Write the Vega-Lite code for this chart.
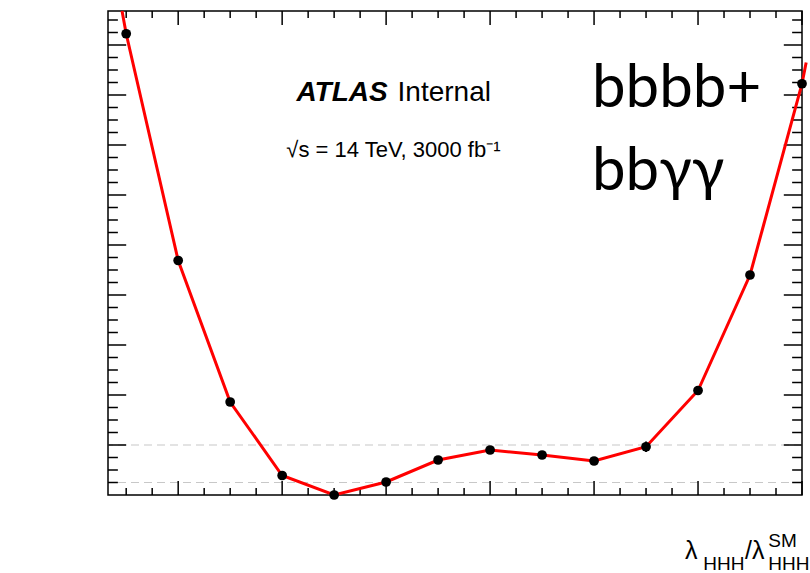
{
  "$schema": "https://vega.github.io/schema/vega-lite/v6.json",
  "width": 694,
  "height": 484,
  "autosize": {"type": "none"},
  "padding": {"left": 108, "top": 11, "right": 8, "bottom": 78},
  "background": "white",
  "config": {
    "view": {"stroke": "black", "strokeWidth": 1.5},
    "axis": {
      "grid": false,
      "domain": false,
      "labelColor": "black",
      "titleColor": "black",
      "labelFont": "Liberation Sans",
      "titleFont": "Liberation Sans",
      "titleFontSize": 25,
      "titleFontWeight": "normal"
    }
  },
  "datasets": {
    "scan": [
      {"lambda": -3, "nll": 18.45},
      {"lambda": -2, "nll": 9.38},
      {"lambda": -1, "nll": 3.72},
      {"lambda": 0, "nll": 0.78},
      {"lambda": 1, "nll": 0.0},
      {"lambda": 2, "nll": 0.52},
      {"lambda": 3, "nll": 1.4},
      {"lambda": 4, "nll": 1.8},
      {"lambda": 5, "nll": 1.6},
      {"lambda": 6, "nll": 1.36},
      {"lambda": 7, "nll": 1.93},
      {"lambda": 8, "nll": 4.18},
      {"lambda": 9, "nll": 8.8},
      {"lambda": 10, "nll": 16.45}
    ],
    "curve": [
      {"lambda": -3.08, "nll": 19.36},
      {"lambda": -3, "nll": 18.45},
      {"lambda": -2, "nll": 9.38},
      {"lambda": -1, "nll": 3.72},
      {"lambda": 0, "nll": 0.78},
      {"lambda": 1, "nll": 0.0},
      {"lambda": 2, "nll": 0.52},
      {"lambda": 3, "nll": 1.4},
      {"lambda": 4, "nll": 1.8},
      {"lambda": 5, "nll": 1.6},
      {"lambda": 6, "nll": 1.36},
      {"lambda": 7, "nll": 1.93},
      {"lambda": 8, "nll": 4.18},
      {"lambda": 9, "nll": 8.8},
      {"lambda": 10, "nll": 16.45},
      {"lambda": 10.08, "nll": 17.3}
    ],
    "thresholds": [{"level": 0.5}, {"level": 2}],
    "error7": [{"lambda": 7, "lo": 1.72, "hi": 2.14}],
    "xMajor": [{"lambda": -2}, {"lambda": 0}, {"lambda": 2}, {"lambda": 4}, {"lambda": 6}, {"lambda": 8}, {"lambda": 10}],
    "xMinor": [{"lambda": -3}, {"lambda": -2.5}, {"lambda": -1.5}, {"lambda": -1}, {"lambda": -0.5}, {"lambda": 0.5}, {"lambda": 1}, {"lambda": 1.5}, {"lambda": 2.5}, {"lambda": 3}, {"lambda": 3.5}, {"lambda": 4.5}, {"lambda": 5}, {"lambda": 5.5}, {"lambda": 6.5}, {"lambda": 7}, {"lambda": 7.5}, {"lambda": 8.5}, {"lambda": 9}, {"lambda": 9.5}],
    "yMajor": [{"nll": 2}, {"nll": 4}, {"nll": 6}, {"nll": 8}, {"nll": 10}, {"nll": 12}, {"nll": 14}, {"nll": 16}, {"nll": 18}],
    "yMinor": [{"nll": 0.5}, {"nll": 1}, {"nll": 1.5}, {"nll": 2.5}, {"nll": 3}, {"nll": 3.5}, {"nll": 4.5}, {"nll": 5}, {"nll": 5.5}, {"nll": 6.5}, {"nll": 7}, {"nll": 7.5}, {"nll": 8.5}, {"nll": 9}, {"nll": 9.5}, {"nll": 10.5}, {"nll": 11}, {"nll": 11.5}, {"nll": 12.5}, {"nll": 13}, {"nll": 13.5}, {"nll": 14.5}, {"nll": 15}, {"nll": 15.5}, {"nll": 16.5}, {"nll": 17}, {"nll": 17.5}, {"nll": 18.5}, {"nll": 19}],
    "anchor": [{}]
  },
  "layer": [
    {
      "data": {"name": "thresholds"},
      "mark": {"type": "rule", "color": "#c8c8c8", "strokeWidth": 1.2, "strokeDash": [8, 5]},
      "encoding": {
        "y": {
          "field": "level", "type": "quantitative",
          "scale": {"domain": [0, 19.36], "nice": false, "zero": false},
          "axis": null
        }
      }
    },
    {
      "data": {"name": "xMajor"},
      "mark": {"type": "rule", "color": "black", "strokeWidth": 1.5},
      "encoding": {
        "x": {"field": "lambda", "type": "quantitative", "scale": {"domain": [-3.35, 10], "nice": false, "zero": false}, "axis": null},
        "y": {"datum": 0, "type": "quantitative", "axis": null},
        "y2": {"datum": 0.56}
      }
    },
    {
      "data": {"name": "xMajor"},
      "mark": {"type": "rule", "color": "black", "strokeWidth": 1.5},
      "encoding": {
        "x": {"field": "lambda", "type": "quantitative", "axis": null},
        "y": {"datum": 19.36, "type": "quantitative", "axis": null},
        "y2": {"datum": 18.8}
      }
    },
    {
      "data": {"name": "xMinor"},
      "mark": {"type": "rule", "color": "black", "strokeWidth": 1.5},
      "encoding": {
        "x": {"field": "lambda", "type": "quantitative", "axis": null},
        "y": {"datum": 0, "type": "quantitative", "axis": null},
        "y2": {"datum": 0.28}
      }
    },
    {
      "data": {"name": "xMinor"},
      "mark": {"type": "rule", "color": "black", "strokeWidth": 1.5},
      "encoding": {
        "x": {"field": "lambda", "type": "quantitative", "axis": null},
        "y": {"datum": 19.36, "type": "quantitative", "axis": null},
        "y2": {"datum": 19.08}
      }
    },
    {
      "data": {"name": "yMajor"},
      "mark": {"type": "rule", "color": "black", "strokeWidth": 1.5},
      "encoding": {
        "y": {"field": "nll", "type": "quantitative", "axis": null},
        "x": {"datum": -3.35, "type": "quantitative", "axis": null},
        "x2": {"datum": -3.0}
      }
    },
    {
      "data": {"name": "yMajor"},
      "mark": {"type": "rule", "color": "black", "strokeWidth": 1.5},
      "encoding": {
        "y": {"field": "nll", "type": "quantitative", "axis": null},
        "x": {"datum": 10, "type": "quantitative", "axis": null},
        "x2": {"datum": 9.65}
      }
    },
    {
      "data": {"name": "yMinor"},
      "mark": {"type": "rule", "color": "black", "strokeWidth": 1.5},
      "encoding": {
        "y": {"field": "nll", "type": "quantitative", "axis": null},
        "x": {"datum": -3.35, "type": "quantitative", "axis": null},
        "x2": {"datum": -3.16}
      }
    },
    {
      "data": {"name": "yMinor"},
      "mark": {"type": "rule", "color": "black", "strokeWidth": 1.5},
      "encoding": {
        "y": {"field": "nll", "type": "quantitative", "axis": null},
        "x": {"datum": 10, "type": "quantitative", "axis": null},
        "x2": {"datum": 9.81}
      }
    },
    {
      "data": {"name": "curve"},
      "mark": {"type": "line", "color": "#ff0000", "strokeWidth": 3, "clip": false},
      "encoding": {
        "x": {
          "field": "lambda", "type": "quantitative",
          "axis": {
            "orient": "bottom", "title": null, "domain": false, "grid": false, "ticks": false,
            "values": [-2, 0, 2, 4, 6, 8, 10],
            "labelFont": "Liberation Sans",
            "labelColor": "black",
            "labelFontSize": 25,
            "labelPadding": 8,
            "labelFlush": false,
            "labelOverlap": false
          }
        },
        "y": {
          "field": "nll", "type": "quantitative",
          "axis": {
            "orient": "left", "domain": false, "grid": false, "ticks": false,
            "values": [0, 2, 4, 6, 8, 10, 12, 14, 16, 18],
            "labelFont": "Liberation Sans",
            "labelColor": "black",
            "labelFontSize": 27,
            "labelPadding": 4,
            "labelFlush": false,
            "labelOverlap": false,
            "title": "-ln(L)",
            "titleFont": "Liberation Sans",
            "titleColor": "black",
            "titleFontWeight": "normal",
            "titleFontSize": 25,
            "titleAngle": 270,
            "titleAlign": "right",
            "titleBaseline": "middle",
            "titleX": -78,
            "titleY": 2
          }
        }
      }
    },
    {
      "data": {"name": "scan"},
      "mark": {"type": "point", "filled": true, "color": "black", "size": 95, "opacity": 1},
      "encoding": {
        "x": {"field": "lambda", "type": "quantitative", "axis": null},
        "y": {"field": "nll", "type": "quantitative", "axis": null}
      }
    },
    {
      "data": {"name": "error7"},
      "mark": {"type": "rule", "color": "black", "strokeWidth": 2},
      "encoding": {
        "x": {"field": "lambda", "type": "quantitative", "axis": null},
        "y": {"field": "lo", "type": "quantitative", "axis": null},
        "y2": {"field": "hi"}
      }
    },
    {
      "data": {"name": "anchor"},
      "mark": {"type": "text", "text": "ATLAS", "font": "Liberation Sans", "fontSize": 28, "fontWeight": "bold", "fontStyle": "italic", "align": "left", "baseline": "alphabetic", "color": "black"},
      "encoding": {
        "x": {"datum": 0.275, "type": "quantitative", "axis": null},
        "y": {"datum": 15.76, "type": "quantitative", "axis": null}
      }
    },
    {
      "data": {"name": "anchor"},
      "mark": {"type": "text", "text": "Internal", "font": "Liberation Sans", "fontSize": 28, "align": "left", "baseline": "alphabetic", "color": "black"},
      "encoding": {
        "x": {"datum": 2.22, "type": "quantitative", "axis": null},
        "y": {"datum": 15.76, "type": "quantitative", "axis": null}
      }
    },
    {
      "data": {"name": "anchor"},
      "mark": {"type": "text", "text": "√s = 14 TeV, 3000 fb⁻¹", "font": "Liberation Sans", "fontSize": 22, "align": "left", "baseline": "alphabetic", "color": "black"},
      "encoding": {
        "x": {"datum": 0.08, "type": "quantitative", "axis": null},
        "y": {"datum": 13.52, "type": "quantitative", "axis": null}
      }
    },
    {
      "data": {"name": "anchor"},
      "mark": {"type": "text", "text": "bbbb+", "font": "Lato", "fontSize": 60, "align": "left", "baseline": "alphabetic", "color": "black"},
      "encoding": {
        "x": {"datum": 5.96, "type": "quantitative", "axis": null},
        "y": {"datum": 15.52, "type": "quantitative", "axis": null}
      }
    },
    {
      "data": {"name": "anchor"},
      "mark": {"type": "text", "text": "bbγγ", "font": "Lato", "fontSize": 60, "align": "left", "baseline": "alphabetic", "color": "black"},
      "encoding": {
        "x": {"datum": 5.96, "type": "quantitative", "axis": null},
        "y": {"datum": 12.2, "type": "quantitative", "axis": null}
      }
    },
    {
      "data": {"name": "anchor"},
      "mark": {"type": "text", "text": "λ", "font": "Liberation Sans", "fontSize": 25, "align": "left", "baseline": "alphabetic", "color": "black", "clip": false},
      "encoding": {
        "x": {"datum": 7.75, "type": "quantitative", "axis": null},
        "y": {"datum": -2.56, "type": "quantitative", "axis": null}
      }
    },
    {
      "data": {"name": "anchor"},
      "mark": {"type": "text", "text": "HHH", "font": "Liberation Sans", "fontSize": 19, "align": "left", "baseline": "alphabetic", "color": "black", "clip": false},
      "encoding": {
        "x": {"datum": 8.1, "type": "quantitative", "axis": null},
        "y": {"datum": -2.98, "type": "quantitative", "axis": null}
      }
    },
    {
      "data": {"name": "anchor"},
      "mark": {"type": "text", "text": "/λ", "font": "Liberation Sans", "fontSize": 25, "align": "left", "baseline": "alphabetic", "color": "black", "clip": false},
      "encoding": {
        "x": {"datum": 8.905, "type": "quantitative", "axis": null},
        "y": {"datum": -2.56, "type": "quantitative", "axis": null}
      }
    },
    {
      "data": {"name": "anchor"},
      "mark": {"type": "text", "text": "SM", "font": "Liberation Sans", "fontSize": 19, "align": "left", "baseline": "alphabetic", "color": "black", "clip": false},
      "encoding": {
        "x": {"datum": 9.35, "type": "quantitative", "axis": null},
        "y": {"datum": -2.08, "type": "quantitative", "axis": null}
      }
    },
    {
      "data": {"name": "anchor"},
      "mark": {"type": "text", "text": "HHH", "font": "Liberation Sans", "fontSize": 19, "align": "left", "baseline": "alphabetic", "color": "black", "clip": false},
      "encoding": {
        "x": {"datum": 9.35, "type": "quantitative", "axis": null},
        "y": {"datum": -2.98, "type": "quantitative", "axis": null}
      }
    }
  ]
}
